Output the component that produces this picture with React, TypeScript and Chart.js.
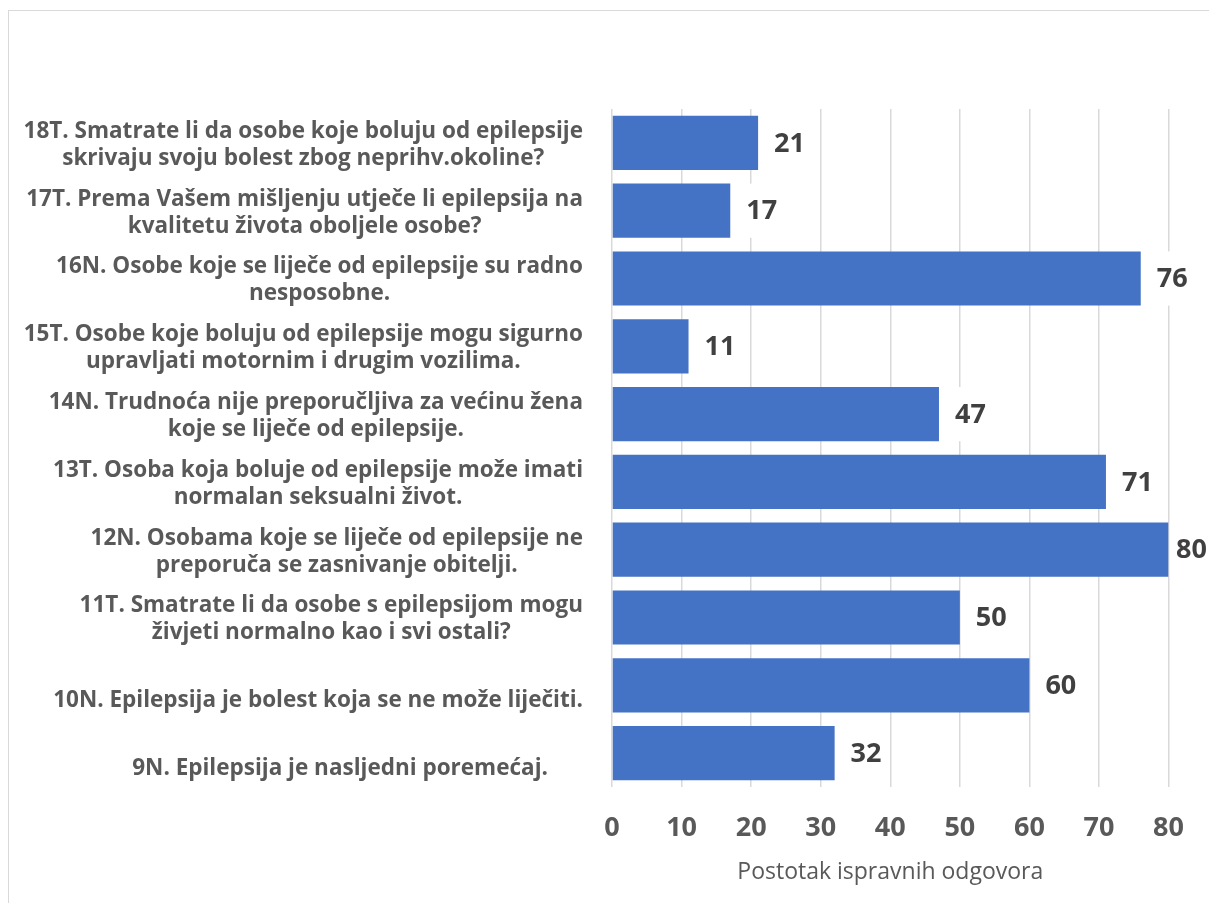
import React, { useEffect, useRef } from "react";
import { Chart, registerables } from "chart.js";

Chart.register(...registerables);

const categories: string[][] = [
  ["18T. Smatrate li da osobe koje boluju od epilepsije", "skrivaju svoju bolest zbog neprihv.okoline?"],
  ["17T. Prema Vašem mišljenju utječe li epilepsija na", "kvalitetu života oboljele osobe?"],
  ["16N. Osobe koje se liječe od epilepsije su radno", "nesposobne."],
  ["15T. Osobe koje boluju od epilepsije mogu sigurno", "upravljati motornim i drugim vozilima."],
  ["14N. Trudnoća nije preporučljiva za većinu žena", "koje se liječe od epilepsije."],
  ["13T. Osoba koja boluje od epilepsije može imati", "normalan seksualni život."],
  ["12N. Osobama koje se liječe od epilepsije ne", "preporuča se zasnivanje obitelji."],
  ["11T. Smatrate li da osobe s epilepsijom mogu", "živjeti normalno kao i svi ostali?"],
  ["", "10N. Epilepsija je bolest koja se ne može liječiti."],
  ["", "9N. Epilepsija je nasljedni poremećaj.      "],
];

const values: number[] = [21, 17, 76, 11, 47, 71, 80, 50, 60, 32];

const xMin = 0;
const xMax = 80;
const xStep = 10;
const axisTitle = "Postotak ispravnih odgovora";

const FONT = "'Open Sans', Lato, sans-serif";
const LABEL_SIZE = 22.5;
const LABEL_LINE = 27;
const LABEL_RIGHT = 574;

const categoryLabelPlugin = {
  id: "categoryLabels",
  afterDraw(chart: any) {
    const ctx = chart.ctx;
    const yScale = chart.scales.y;
    ctx.save();
    ctx.font = `bold ${LABEL_SIZE}px ${FONT}`;
    ctx.fillStyle = "#595959";
    ctx.textAlign = "center";
    ctx.textBaseline = "middle";
    categories.forEach((lines, i) => {
      const cy = yScale.getPixelForValue(i) + 2;
      const w = Math.max(...lines.map((l) => ctx.measureText(l).width));
      const cx = LABEL_RIGHT - w / 2;
      const n = lines.length;
      lines.forEach((l, j) => {
        ctx.fillText(l, cx, cy + (j - (n - 1) / 2) * LABEL_LINE);
      });
    });
    ctx.restore();
  },
};

const dataLabelPlugin = {
  id: "dataLabels",
  afterDatasetsDraw(chart: any) {
    const ctx = chart.ctx;
    const meta = chart.getDatasetMeta(0);
    ctx.save();
    ctx.font = `bold 27px ${FONT}`;
    ctx.textAlign = "left";
    ctx.textBaseline = "middle";
    meta.data.forEach((bar: any, i: number) => {
      const text = String(values[i]);
      const tw = ctx.measureText(text).width;
      const x = Math.min(bar.x + 16, chart.width - tw - 2);
      const h = bar.height;
      ctx.fillStyle = "#ffffff";
      ctx.fillRect(Math.max(x - 8, bar.x + 1), bar.y - h / 2, tw + 14, h);
      ctx.fillStyle = "#404040";
      ctx.fillText(text, x, bar.y + 1);
    });
    ctx.restore();
  },
};

document.body.style.margin = "0";

export default function App() {
  const canvasRef = useRef<HTMLCanvasElement | null>(null);

  useEffect(() => {
    document.body.style.margin = "0";
    if (!canvasRef.current) return;
    const chart = new Chart(canvasRef.current, {
      type: "bar",
      data: {
        labels: categories.map((c) => c.filter((s) => s).join(" ")),
        datasets: [
          {
            data: values,
            backgroundColor: "#4472C4",
            borderWidth: 0,
            barPercentage: 0.8,
            categoryPercentage: 1,
          },
        ],
      },
      options: {
        indexAxis: "y",
        animation: false,
        responsive: true,
        maintainAspectRatio: false,
        layout: { padding: { top: 98, right: 33, left: 0, bottom: 0 } },
        plugins: {
          legend: { display: false },
          tooltip: { enabled: false },
        },
        scales: {
          y: {
            display: true,
            grid: { display: false },
            border: { display: false },
            ticks: { display: false },
            afterFit: (s: any) => {
              s.width = 603;
            },
          },
          x: {
            min: xMin,
            max: xMax,
            grid: { color: "#d9d9d9", lineWidth: 1.5, drawTicks: false },
            border: { display: false },
            ticks: {
              stepSize: xStep,
              padding: 25,
              color: "#595959",
              font: { family: FONT, size: 27, weight: "bold" },
            },
            title: {
              display: true,
              text: axisTitle,
              color: "#595959",
              font: { family: FONT, size: 23 },
              padding: { top: 0, bottom: 27 },
            },
            afterFit: (s: any) => {
              s.height = 126;
            },
          },
        },
      },
      plugins: [categoryLabelPlugin, dataLabelPlugin],
    });
    return () => chart.destroy();
  }, []);

  return (
    <div
      style={{
        marginLeft: 8,
        paddingTop: 10,
        width: 1201,
        height: 903,
        boxSizing: "border-box",
        overflow: "hidden",
      }}
    >
      <div
        style={{
          width: 1200,
          height: 902,
          borderTop: "1px solid #d9d9d9",
          borderLeft: "1px solid #d9d9d9",
          position: "relative",
        }}
      >
        <canvas ref={canvasRef} />
      </div>
    </div>
  );
}
